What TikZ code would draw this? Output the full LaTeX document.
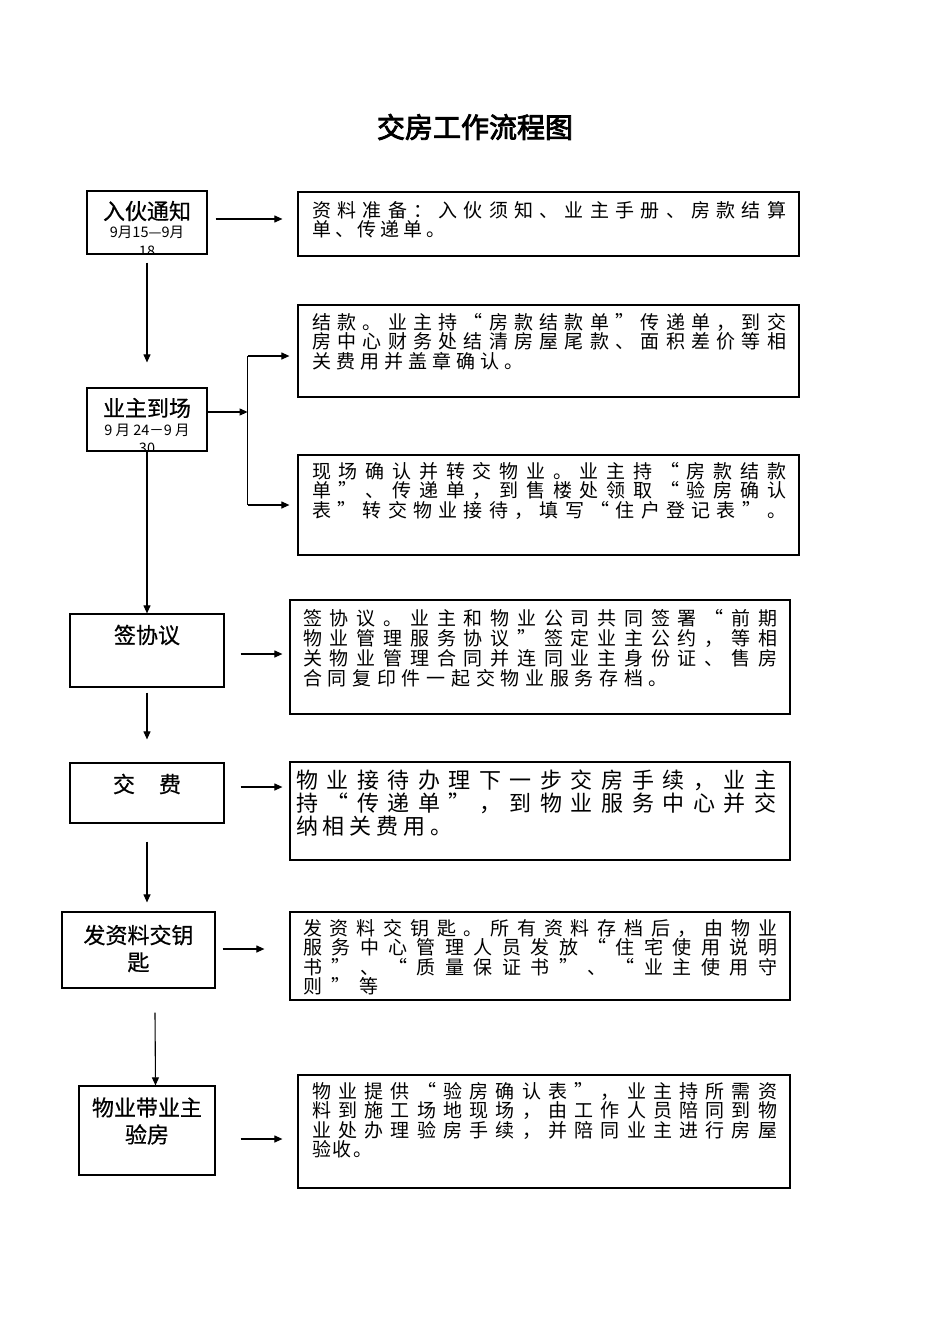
\documentclass[tikz,border=0pt]{standalone}
\usepackage{fontspec}
\setmainfont{Noto Sans CJK SC}
\newfontfamily\cjkb[FakeBold=3]{Noto Sans CJK SC}
\newfontfamily\cjkl[FakeBold=0.6]{Noto Sans CJK SC}
\usetikzlibrary{arrows.meta,calc}
\newdimen\tgap
\def\jfirst#1{#1\jrest}
\def\jrest#1{\ifx#1\relax\else\hfill#1\expandafter\jrest\fi}
\newcommand\jl[2]{\hbox to #1pt{\jfirst#2\relax}}
\def\tfirst#1{#1\trest}
\def\trest#1{\ifx#1\relax\else\kern\tgap #1\expandafter\trest\fi}
\newcommand\tl[2]{\hbox{\tgap=#1pt\relax\tfirst#2\relax}}
\tikzset{
  box/.style={draw=black, line width=1.2pt, inner sep=0pt, fill=none},
  arr/.style={line width=1.1pt, -{Triangle[length=8pt,width=7pt]}},
  ln/.style={line width=1.1pt},
  lbl/.style={inner sep=0pt, font=\fontsize{22}{27}\selectfont\cjkl},
  sub/.style={inner sep=0pt, font=\fontsize{14.5}{15}\selectfont},
  txt/.style={inner sep=0pt, anchor=base west},
  bt/.style={font=\fontsize{19}{19.5}\selectfont},
}
\begin{document}
\begin{tikzpicture}[x=1pt,y=-1pt]
\useasboundingbox (0,0) rectangle (950,1344);
\fill[white] (0,0) rectangle (950,1344);
% title
\node[inner sep=0pt, font=\fontsize{28}{32}\selectfont\cjkb] (title) at (475,127) {交房工作流程图};
% left boxes
\node[box, minimum width=120, minimum height=63] (b1) at (147,222.5) {};
\node[box, minimum width=120, minimum height=63] (b2) at (147,419.5) {};
\node[box, minimum width=154, minimum height=73] (b3) at (147,650.5) {};
\node[box, minimum width=154, minimum height=60] (b4) at (147,793) {};
\node[box, minimum width=153, minimum height=76] (b5) at (138.5,950) {};
\node[box, minimum width=136, minimum height=89] (b6) at (147,1130.5) {};
% right boxes
\node[box, minimum width=501, minimum height=64] (r1) at (548.5,224) {};
\node[box, minimum width=501, minimum height=92] (r2) at (548.5,351) {};
\node[box, minimum width=501, minimum height=100] (r3) at (548.5,505) {};
\node[box, minimum width=500, minimum height=114] (r4) at (540,657) {};
\node[box, minimum width=500, minimum height=98] (r5) at (540,811) {};
\node[box, minimum width=500, minimum height=88] (r6) at (540,956) {};
\node[box, minimum width=492, minimum height=113] (r7) at (544,1131.5) {};
% left labels
\node[lbl] (l1) at (147,211) {入伙通知};
\node[sub] (s1) at (147,232) {9月15—9月};
\begin{scope}
\clip (88,191) rectangle (206,253.4);
\node[sub] (s1b) at (147,251) {18};
\end{scope}
\node[lbl] (l2) at (147,408) {业主到场};
\node[sub] (s2) at (147,430) {9 月 24－9 月};
\begin{scope}
\clip (88,388) rectangle (206,450.4);
\node[sub] (s2b) at (147,448) {30};
\end{scope}
\node[lbl] (l3) at (147,635) {签协议};
\node[lbl] (l4) at (147,784) {交\hspace{24pt}费};
\node[lbl, align=center] (l5) at (138.5,948.5) {发资料交钥\\匙};
\node[lbl, align=center] (l6) at (147,1121) {物业带业主\\验房};
% right texts
\node[txt, bt] (t1) at (312,217.2) {\vtop{\baselineskip=19.5pt
\jl{474}{资料准备：入伙须知、业主手册、房款结算}
\tl{3.8}{单、传递单。}}};
\node[txt, bt] (t2) at (312,329.2) {\vtop{\baselineskip=19.5pt
\jl{474}{结款。业主持“房款结款单”传递单，到交}
\jl{474}{房中心财务处结清房屋尾款、面积差价等相}
\tl{5}{关费用并盖章确认。}}};
\node[txt, bt] (t3) at (312,478.2) {\vtop{\baselineskip=19.5pt
\jl{474}{现场确认并转交物业。业主持“房款结款}
\jl{474}{单”、传递单，到售楼处领取“验房确认}
\tl{6.3}{表”转交物业接待，填写“住户登记表”。}}};
\node[txt, bt] (t4) at (303,625.2) {\vtop{\baselineskip=20pt
\jl{474}{签协议。业主和物业公司共同签署“前期}
\jl{474}{物业管理服务协议”签定业主公约，等相}
\jl{474}{关物业管理合同并连同业主身份证、售房}
\tl{5.7}{合同复印件一起交物业服务存档。}}};
\node[txt, font=\fontsize{22}{23}\selectfont] (t5) at (296,788.4) {\vtop{\baselineskip=23pt
\jl{480}{物业接待办理下一步交房手续，业主}
\jl{480}{持“传递单”，到物业服务中心并交}
\tl{4.8}{纳相关费用。}}};
\node[txt, bt] (t6) at (303,935.2) {\vtop{\baselineskip=19.5pt
\jl{474}{发资料交钥匙。所有资料存档后，由物业}
\jl{474}{服务中心管理人员发放“住宅使用说明}
\jl{474}{书”、“质量保证书”、“业主使用守}
\tl{9}{则”等}}};
\node[txt, bt] (t7) at (312,1098.2) {\vtop{\baselineskip=19.5pt
\jl{465}{物业提供“验房确认表”，业主持所需资}
\jl{465}{料到施工场地现场，由工作人员陪同到物}
\jl{465}{业处办理验房手续，并陪同业主进行房屋}
\tl{1.5}{验收。}}};
% connectors
\draw[arr] ($(b1.east)+(8,-3.5)$) -- ($(r1.west)+(-15,-5)$);
\draw[arr] ($(b1.south)+(0,8)$) -- ($(b2.north)+(0,-25)$);
\coordinate (v) at ($(b2.east)+(40,-7.5)$);
\draw[arr] ($(b2.east)+(0,-7.5)$) -- (v);
\draw[ln] (v |- {$(r2.west)+(0,5)$}) -- (v |- {$(r3.west)+(0,0)$});
\draw[arr] (v |- {$(r2.west)+(0,5)$}) -- ($(r2.west)+(-8,5)$);
\draw[arr] (v |- r3.west) -- ($(r3.west)+(-8,0)$);
\draw[arr] (b2.south) -- (b3.north);
\draw[arr] ($(b3.east)+(16,3.5)$) -- ($(r4.west)+(-7,-3)$);
\draw[arr] ($(b3.south)+(0,5)$) -- ($(b4.north)+(0,-23)$);
\draw[arr] ($(b4.east)+(16,-6)$) -- ($(r5.west)+(-7,-24)$);
\draw[arr] ($(b4.south)+(0,18)$) -- ($(b5.north)+(8.5,-9)$);
\draw[arr] ($(b5.east)+(7,-1)$) -- ($(r6.west)+(-25,-7)$);
\draw[arr] ($(b5.south)+(16.5,24)$) -- ($(b6.north)+(8.5,0)$);
\draw[arr] ($(b6.east)+(25,8.5)$) -- ($(r7.west)+(-15,7.5)$);
\end{tikzpicture}
\end{document}
